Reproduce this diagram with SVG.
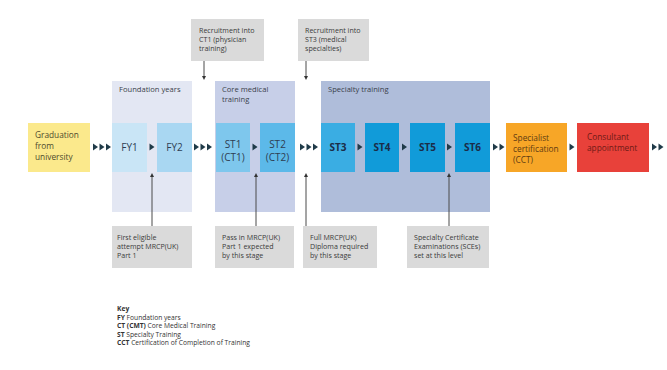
<svg xmlns="http://www.w3.org/2000/svg" width="667" height="370" viewBox="0 0 667 370">
<style>
text{font-family:"Open Sans","Noto Sans","DejaVu Sans",sans-serif;}
.panel-t{font-size:7.6px;fill:#3a3f4a;}
.call{fill:#dadada;}
.call-t{font-size:7.1px;fill:#3a3a3a;}
.step{font-size:10px;fill:#2e3e52;text-anchor:middle;}
.stepb{font-size:10px;fill:#1b2c48;font-weight:bold;text-anchor:middle;}
.ln{stroke:#4a4a4a;stroke-width:1;fill:none;}
.key{font-size:6.7px;fill:#333;}
.keyb{font-weight:bold;}
</style>
<defs>
<polygon id="tri" points="0,-3.6 5,0 0,3.6" fill="#1f3a48"/>
<polygon id="ahd" points="-2,-4 2,-4 0,0" fill="#333"/>
<polygon id="ahu" points="-2,4 2,4 0,0" fill="#333"/>
</defs>
<rect width="667" height="370" fill="#ffffff"/>

<g id="panel-foundation">
<rect x="112" y="81" width="80" height="131" fill="#e3e7f3"/>
<text class="panel-t" x="119" y="92">Foundation years</text>
</g>
<g id="panel-core">
<rect x="215" y="81" width="80" height="131" fill="#c7cfe8"/>
<text class="panel-t" x="222" y="92">Core medical</text>
<text class="panel-t" x="222" y="102">training</text>
</g>
<g id="panel-specialty">
<rect x="321" y="81" width="169" height="131" fill="#afbdda"/>
<text class="panel-t" x="328" y="92">Specialty training</text>
</g>

<g id="recruit-ct1">
<rect class="call" x="191" y="19" width="73" height="42"/>
<text class="call-t" x="199" y="33">Recruitment into</text>
<text class="call-t" x="199" y="42">CT1 (physician</text>
<text class="call-t" x="199" y="51">training)</text>
</g>
<g id="recruit-st3">
<rect class="call" x="298" y="19" width="71" height="42"/>
<text class="call-t" x="305" y="33">Recruitment into</text>
<text class="call-t" x="305" y="42">ST3 (medical</text>
<text class="call-t" x="305" y="51">specialties)</text>
</g>

<g id="graduation">
<rect x="28" y="123" width="62" height="49" fill="#fbe98c"/>
<text x="35" y="138" font-size="8.3" fill="#4d4a2c">Graduation</text>
<text x="35" y="149" font-size="8.3" fill="#4d4a2c">from</text>
<text x="35" y="160" font-size="8.3" fill="#4d4a2c">university</text>
</g>
<g id="fy1">
<rect x="112" y="123" width="35" height="49" fill="#c9e5f6"/>
<text class="step" x="129.5" y="151">FY1</text>
</g>
<g id="fy2">
<rect x="157" y="123" width="35" height="49" fill="#a9d7f2"/>
<text class="step" x="174.5" y="151">FY2</text>
</g>
<g id="st1">
<rect x="216" y="123" width="34" height="49" fill="#7ec7ed"/>
<text class="step" x="233" y="148">ST1</text>
<text class="step" x="233" y="161">(CT1)</text>
</g>
<g id="st2">
<rect x="260" y="123" width="35" height="49" fill="#5cb9e9"/>
<text class="step" x="277.5" y="148">ST2</text>
<text class="step" x="277.5" y="161">(CT2)</text>
</g>
<g id="st3">
<rect x="321" y="123" width="34" height="49" fill="#3aade3"/>
<text class="stepb" x="338" y="151">ST3</text>
</g>
<g id="st4">
<rect x="365" y="123" width="34" height="49" fill="#119bd9"/>
<text class="stepb" x="382" y="151">ST4</text>
</g>
<g id="st5">
<rect x="410" y="123" width="35" height="49" fill="#119bd9"/>
<text class="stepb" x="427.5" y="151">ST5</text>
</g>
<g id="st6">
<rect x="455" y="123" width="35" height="49" fill="#119bd9"/>
<text class="stepb" x="472.5" y="151">ST6</text>
</g>
<g id="cct">
<rect x="506" y="123" width="61" height="49" fill="#f7a627"/>
<text x="513" y="141" font-size="8.3" fill="#5e3b12">Specialist</text>
<text x="513" y="152" font-size="8.3" fill="#5e3b12">certification</text>
<text x="513" y="163" font-size="8.3" fill="#5e3b12">(CCT)</text>
</g>
<g id="consultant">
<rect x="577" y="123" width="72" height="49" fill="#e8413a"/>
<text x="587" y="140" font-size="8.3" fill="#6e1a16">Consultant</text>
<text x="587" y="151" font-size="8.3" fill="#6e1a16">appointment</text>
</g>

<g id="note-fy">
<rect class="call" x="112" y="226" width="80" height="42"/>
<text class="call-t" x="117" y="240">First eligible</text>
<text class="call-t" x="117" y="249">attempt MRCP(UK)</text>
<text class="call-t" x="117" y="258">Part 1</text>
</g>
<g id="note-ct">
<rect class="call" x="215" y="226" width="79" height="42"/>
<text class="call-t" x="222" y="240">Pass in MRCP(UK)</text>
<text class="call-t" x="222" y="249">Part 1 expected</text>
<text class="call-t" x="222" y="258">by this stage</text>
</g>
<g id="note-full">
<rect class="call" x="303" y="226" width="74" height="42"/>
<text class="call-t" x="310" y="240">Full MRCP(UK)</text>
<text class="call-t" x="310" y="249">Diploma required</text>
<text class="call-t" x="310" y="258">by this stage</text>
</g>
<g id="note-sce">
<rect class="call" x="407" y="226" width="82" height="42"/>
<text class="call-t" x="414" y="240">Specialty Certificate</text>
<text class="call-t" x="414" y="249">Examinations (SCEs)</text>
<text class="call-t" x="414" y="258">set at this level</text>
</g>

<g id="connectors">
<use href="#tri" x="93" y="147"/><use href="#tri" x="99.5" y="147"/><use href="#tri" x="106" y="147"/>
<use href="#tri" x="149.5" y="147"/>
<use href="#tri" x="194" y="147"/><use href="#tri" x="200.5" y="147"/><use href="#tri" x="207" y="147"/>
<use href="#tri" x="252.5" y="147"/>
<use href="#tri" x="300" y="147"/><use href="#tri" x="306.5" y="147"/><use href="#tri" x="313" y="147"/>
<use href="#tri" x="357.5" y="147"/>
<use href="#tri" x="402" y="147"/>
<use href="#tri" x="447" y="147"/>
<use href="#tri" x="493" y="147"/><use href="#tri" x="499.5" y="147"/>
<use href="#tri" x="569.5" y="147"/>
<use href="#tri" x="652" y="147"/><use href="#tri" x="658.5" y="147"/>
<line class="ln" x1="204" y1="61" x2="204" y2="76"/><use href="#ahd" x="204" y="80"/>
<line class="ln" x1="306" y1="61" x2="306" y2="76"/><use href="#ahd" x="306" y="80"/>
<line class="ln" x1="152" y1="226" x2="152" y2="177"/><use href="#ahu" x="152" y="173"/>
<line class="ln" x1="256" y1="226" x2="256" y2="177"/><use href="#ahu" x="256" y="173"/>
<line class="ln" x1="306" y1="226" x2="306" y2="177"/><use href="#ahu" x="306" y="173"/>
<line class="ln" x1="449" y1="226" x2="449" y2="177"/><use href="#ahu" x="449" y="173"/>
</g>

<g id="key">
<text class="key keyb" x="117" y="311">Key</text>
<text class="key" x="117" y="319.5"><tspan class="keyb">FY</tspan> Foundation years</text>
<text class="key" x="117" y="328"><tspan class="keyb">CT (CMT)</tspan> Core Medical Training</text>
<text class="key" x="117" y="336.5"><tspan class="keyb">ST</tspan> Specialty Training</text>
<text class="key" x="117" y="345"><tspan class="keyb">CCT</tspan> Certification of Completion of Training</text>
</g>
</svg>
